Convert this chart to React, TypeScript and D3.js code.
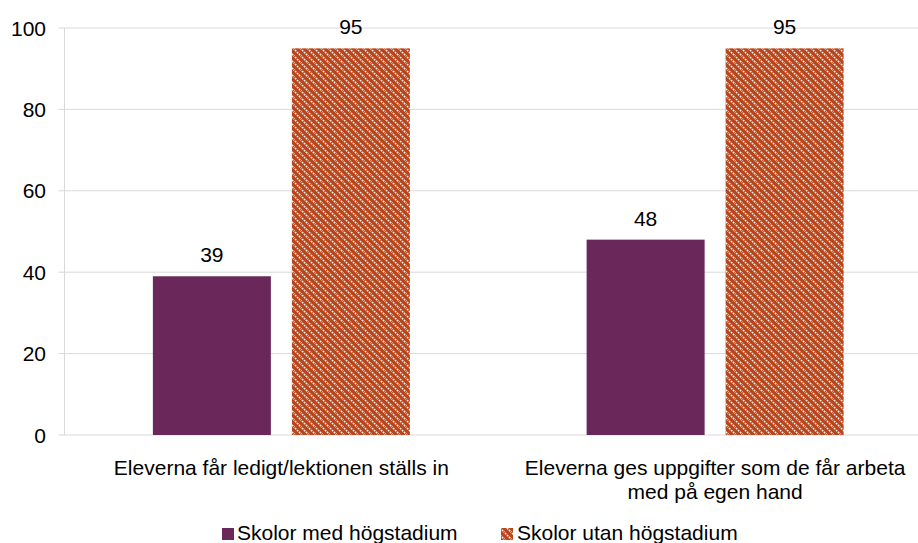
import React from "react";
import * as d3 from "d3";

const categories = [
  ["Eleverna får ledigt/lektionen ställs in"],
  ["Eleverna ges uppgifter som de får arbeta", "med på egen hand"],
];
const seriesNames = ["Skolor med högstadium", "Skolor utan högstadium"];
const withValues = [39, 48];
const withoutValues = [95, 95];
const yTicks = [0, 20, 40, 60, 80, 100];

const W = 918;
const H = 543;
const left = 64.5;
const right = 932;
const top = 28;
const bottom = 435;
const purple = "#6A2759";
const orange = "#B8461C";
const font = "Liberation Sans, Arial, sans-serif";
const fs = 21;

export default function App() {
  const x = d3.scaleBand<number>().domain([0, 1]).range([left, right]);
  const y = d3.scaleLinear().domain([0, 100]).range([bottom, top]);
  const barW = 118;
  const gap = 21;
  const series = [withValues, withoutValues];
  return (
    <svg width={W} height={H} style={{ position: "absolute", left: 0, top: 0 }}>
      <defs>
        <pattern id="hatch" width="7" height="7" patternUnits="userSpaceOnUse">
          <rect width="7" height="7" fill={orange} />
          <path d="M-1,-1 L8,8 M-1,6 L1,8 M6,-1 L8,1" stroke="#ffffff" strokeWidth="1.6" strokeDasharray="1.8 1" opacity="0.9" />
        </pattern>
      </defs>
      <rect width={W} height={H} fill="#fff" />
      {yTicks.map((t) => (
        <g key={t}>
          <line x1={left - 6} x2={W} y1={y(t)} y2={y(t)} stroke="#d9d9d9" strokeWidth={1} />
          <text x={46} y={y(t)} dy="0.36em" textAnchor="end" fontFamily={font} fontSize={fs} fill="#000">
            {t}
          </text>
        </g>
      ))}
      <line x1={left} x2={left} y1={top} y2={bottom} stroke="#d9d9d9" />
      {categories.map((c, i) => {
        const cx = (x(i) as number) + x.bandwidth() / 2;
        return (
          <g key={i}>
            {series.map((s, j) => {
              const bx = cx - gap / 2 - barW + j * (barW + gap);
              const v = s[i];
              return (
                <g key={j}>
                  <rect x={bx} y={y(v)} width={barW} height={bottom - y(v)} fill={j === 0 ? purple : "url(#hatch)"} />
                  <text x={bx + barW / 2} y={y(v) - 14} textAnchor="middle" fontFamily={font} fontSize={fs} fill="#000">
                    {v}
                  </text>
                </g>
              );
            })}
            {c.map((line, k) => (
              <text key={k} x={cx} y={475 + k * 24} textAnchor="middle" fontFamily={font} fontSize={fs} fill="#000">
                {line}
              </text>
            ))}
          </g>
        );
      })}
      <g>
        <rect x={222} y={528} width={12} height={12} fill={purple} />
        <text x={237} y={540} fontFamily={font} fontSize={fs} fill="#000">{seriesNames[0]}</text>
        <rect x={501} y={528} width={12} height={12} fill="url(#hatch)" />
        <text x={517} y={540} fontFamily={font} fontSize={fs} fill="#000">{seriesNames[1]}</text>
      </g>
    </svg>
  );
}
